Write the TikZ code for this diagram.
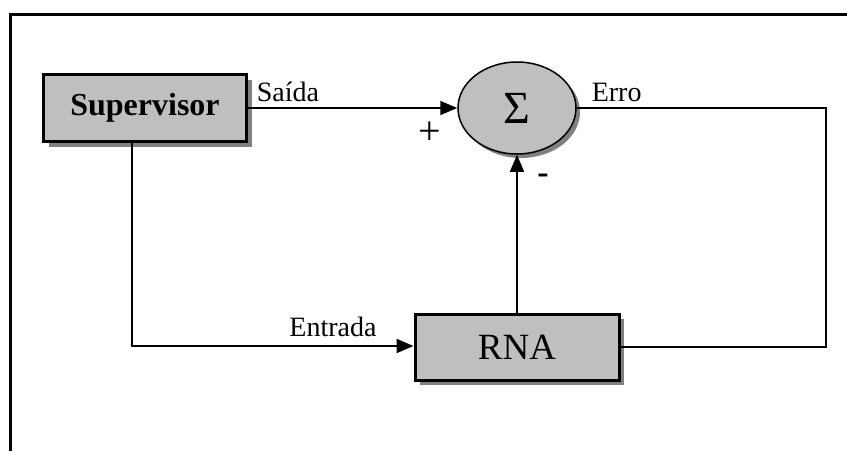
\documentclass[tikz,border=0pt]{standalone}
\usepackage{fontspec}
\setmainfont{Liberation Serif}
\usetikzlibrary{arrows.meta,shadows,shapes.geometric}

\begin{document}
\begin{tikzpicture}[x=1pt, y=-1pt,
	bloco/.style={draw=black, line width=3pt, fill=gray!50, drop shadow={shadow xshift=5pt, shadow yshift=-5pt, fill=gray, opacity=1}},
	seta/.style={-{Triangle[length=17pt,width=14pt]}, line width=1.5pt},
	rotulo/.style={font=\fontsize{28}{32}\selectfont, inner sep=2pt}]
	\useasboundingbox (0,0) rectangle (847,451);
	\draw[line width=3pt] (10,451) -- (10,14) -- (847,14);
	
	\node[bloco, minimum width=203, minimum height=67, font=\fontsize{32}{36}\selectfont\bfseries] (sup) at (145,108) {Supervisor};
	\node[ellipse, draw=black, line width=1.5pt, fill=gray!50, minimum width=118, minimum height=92, inner sep=0pt, drop shadow={shadow xshift=4pt, shadow yshift=-4pt, fill=gray, opacity=1}, font=\fontsize{46}{50}\selectfont] (soma) at (517,108) {\raisebox{-3pt}{Σ}};
	\node[bloco, minimum width=204, minimum height=66, font=\fontsize{37}{40}\selectfont] (rna) at (517,347) {RNA};
	
	\coordinate (c1) at (132,346);
	\coordinate (c2) at (826,108);
	\coordinate (c3) at (826,347);
	
	\node[font=\fontsize{40}{44}\selectfont] (mais) at (430,133) {+};
	\node[font=\fontsize{34}{36}\selectfont\bfseries] (menos) at (543,179) {-};
	
	\draw[seta] (sup.east) -- node[rotulo, pos=0, anchor=south west, xshift=6, yshift=3] {Saída} (soma.west);
	\draw[seta] (rna.north) -- (soma.south);
	\draw[seta, line width=2pt] (sup.south -| c1) -- (c1) -- node[rotulo, pos=1, anchor=south east, xshift=-34, yshift=6] {Entrada} (c1 -| rna.west);
	\draw[line width=2pt] (soma.east) -- node[rotulo, pos=0, anchor=south west, xshift=12, yshift=3] {Erro} (c2) -- (c3) -- (rna.east);
	
\end{tikzpicture}
\end{document}
